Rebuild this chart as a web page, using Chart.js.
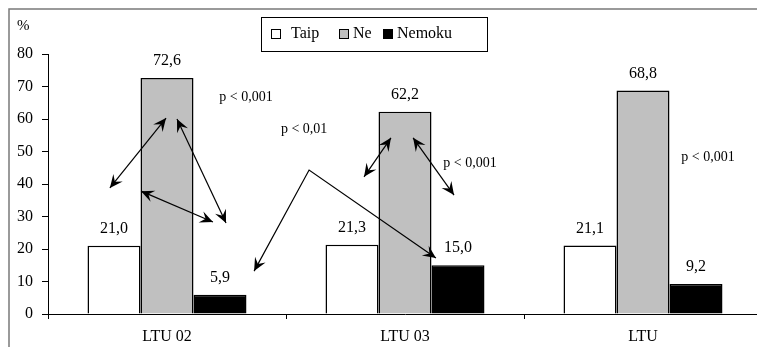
<!DOCTYPE html>
<html>
<head>
<meta charset="utf-8">
<script src="https://cdn.jsdelivr.net/npm/chart.js@4/dist/chart.umd.min.js"></script>
<style>
  html, body { margin: 0; padding: 0; background: #fff; overflow: hidden; }
  #wrap { width: 770px; height: 347px; }
</style>
</head>
<body>
<div id="wrap"><canvas id="c" width="770" height="347"></canvas></div>
<script>
// ---- data ----
const categories = ['LTU 02', 'LTU 03', 'LTU'];
const seriesNames = ['Taip', 'Ne', 'Nemoku'];
const taip = [21.0, 21.3, 21.1];
const ne = [72.6, 62.2, 68.8];
const nemoku = [5.9, 15.0, 9.2];
const yMin = 0, yMax = 80, yStep = 10;
const yUnit = '%';
// significance annotations: [category position, value]
const arrowsDouble = [
  [[-0.24, 38.8], [-0.004, 60.3]],
  [[0.042, 60.0], [0.248, 28.0]],
  [[-0.109, 37.8], [0.193, 28.3]],
  [[0.828, 42.2], [0.941, 54.2]],
  [[1.034, 54.2], [1.206, 36.6]]
];
const arrowBent = [[0.366, 13.2], [0.597, 44.3], [1.130, 17.2]];
const pLabels = ['p < 0,001', 'p < 0,01', 'p < 0,001', 'p < 0,001'];
const pPos = [[0.332, 66.8], [0.576, 56.9], [1.273, 46.5], [2.273, 48.3]];

const FONT = '"Liberation Serif", "Times New Roman", serif';
const colors = ['#ffffff', '#c0c0c0', '#000000'];

function fmt(v) { return v.toFixed(1).replace('.', ','); }

function toPx(chart, p) {
  const xs = chart.scales.x, ys = chart.scales.y;
  const x0 = xs.getPixelForValue(0), x1 = xs.getPixelForValue(1);
  return [x0 + p[0] * (x1 - x0), ys.getPixelForValue(p[1])];
}

function arrowHead(ctx, from, to) {
  const ang = Math.atan2(to[1] - from[1], to[0] - from[0]);
  const L = 13, W = 6, N = 8;
  ctx.save();
  ctx.translate(to[0], to[1]);
  ctx.rotate(ang);
  ctx.beginPath();
  ctx.moveTo(0, 0);
  ctx.lineTo(-L, -W);
  ctx.lineTo(-N, 0);
  ctx.lineTo(-L, W);
  ctx.closePath();
  ctx.fill();
  ctx.restore();
}

const decor = {
  id: 'decor',
  beforeDraw(chart) {
    const ctx = chart.ctx;
    ctx.save();
    ctx.strokeStyle = '#7a7a7a';
    ctx.lineWidth = 1.5;
    ctx.strokeRect(9, 9, chart.width + 20, chart.height + 20);
    ctx.restore();
  },
  afterDatasetsDraw(chart) {
    const ctx = chart.ctx;
    ctx.save();
    // value labels
    ctx.fillStyle = '#000';
    ctx.font = '16px ' + FONT;
    ctx.textAlign = 'center';
    ctx.textBaseline = 'bottom';
    chart.data.datasets.forEach((ds, di) => {
      const meta = chart.getDatasetMeta(di);
      meta.data.forEach((el, i) => {
        ctx.fillText(fmt(ds.data[i]), el.x, el.y - 9);
      });
    });
    // y unit
    ctx.textAlign = 'left';
    ctx.textBaseline = 'middle';
    ctx.font = '15px ' + FONT;
    ctx.fillText(yUnit, 17, 26);
    // arrows
    ctx.strokeStyle = '#000';
    ctx.fillStyle = '#000';
    ctx.lineWidth = 1.2;
    arrowsDouble.forEach(a => {
      const p = toPx(chart, a[0]), q = toPx(chart, a[1]);
      ctx.beginPath(); ctx.moveTo(p[0], p[1]); ctx.lineTo(q[0], q[1]); ctx.stroke();
      arrowHead(ctx, p, q); arrowHead(ctx, q, p);
    });
    const b = arrowBent.map(p => toPx(chart, p));
    ctx.beginPath(); ctx.moveTo(b[0][0], b[0][1]); ctx.lineTo(b[1][0], b[1][1]); ctx.lineTo(b[2][0], b[2][1]); ctx.stroke();
    arrowHead(ctx, b[1], b[0]); arrowHead(ctx, b[1], b[2]);
    // p labels
    ctx.font = '14px ' + FONT;
    ctx.textAlign = 'center';
    ctx.textBaseline = 'middle';
    pLabels.forEach((t, i) => {
      const p = toPx(chart, pPos[i]);
      ctx.fillText(t, p[0], p[1]);
    });
    // legend
    ctx.lineWidth = 1;
    ctx.strokeStyle = '#000';
    ctx.strokeRect(261.5, 17.5, 226, 34);
    ctx.font = '16px ' + FONT;
    ctx.textAlign = 'left';
    const items = [[271, 291], [339, 353], [383, 397]];
    seriesNames.forEach((n, i) => {
      ctx.fillStyle = colors[i];
      ctx.fillRect(items[i][0] + 0.5, 29.5, 9, 9);
      ctx.strokeRect(items[i][0] + 0.5, 29.5, 9, 9);
      ctx.fillStyle = '#000';
      ctx.fillText(n, items[i][1], 34);
    });
    ctx.restore();
  }
};

const series = [taip, ne, nemoku];
new Chart(document.getElementById('c'), {
  type: 'bar',
  data: {
    labels: categories,
    datasets: series.map((d, i) => ({
      label: seriesNames[i],
      data: d,
      backgroundColor: colors[i],
      borderColor: '#000',
      borderWidth: 1.5,
      categoryPercentage: 0.668,
      barPercentage: 1.0
    }))
  },
  options: {
    responsive: false,
    animation: false,
    devicePixelRatio: 1,
    layout: { padding: { left: 0, top: 54, right: 8, bottom: 0 } },
    plugins: { legend: { display: false }, tooltip: { enabled: false } },
    scales: {
      x: {
        afterFit(s) { s.height = 33; },
        grid: { display: true, offset: true, drawOnChartArea: false, drawTicks: true, tickLength: 5, color: '#000' },
        border: { display: true, color: '#000', width: 1 },
        ticks: { color: '#000', padding: 8, font: { family: FONT, size: 16 } }
      },
      y: {
        min: yMin, max: yMax,
        afterFit(s) { s.width = 48; },
        grid: { drawOnChartArea: false, drawTicks: true, tickLength: 6, color: '#000' },
        border: { display: true, color: '#000', width: 1 },
        ticks: { stepSize: yStep, color: '#000', padding: 9, font: { family: FONT, size: 16 } }
      }
    }
  },
  plugins: [decor]
});
</script>
</body>
</html>
